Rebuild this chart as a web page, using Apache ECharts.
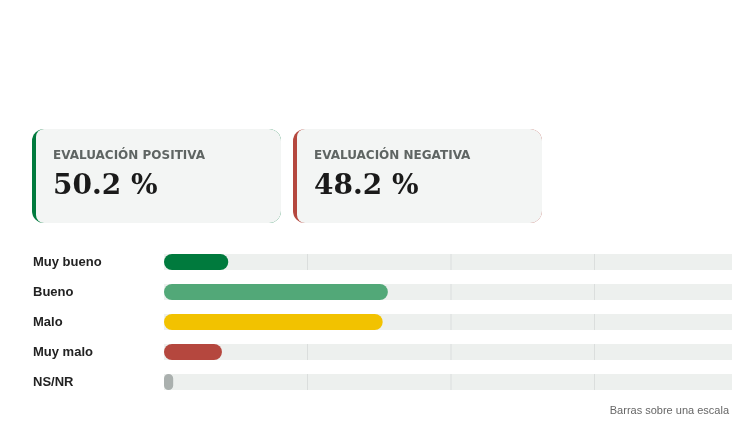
<!DOCTYPE html>
<html>
<head>
<meta charset="utf-8">
<script src="https://cdn.jsdelivr.net/npm/echarts@6/dist/echarts.min.js"></script>
<style>
  html, body { margin: 0; padding: 0; background: #fff; }
  #chart { width: 732px; height: 441px; }
</style>
</head>
<body>
<div id="chart"></div>
<script>
// datos
var categorias = ['Muy bueno', 'Bueno', 'Malo', 'Muy malo', 'NS/NR'];
var valores = [11.2, 39.0, 38.1, 10.1, 1.6];
var colores = ['#007a3d', '#52a878', '#f2c200', '#b5473e', '#aab0ae'];
var escalaMax = 100;
var lineasGuia = [25, 50, 75];
var tarjetas = [
    { titulo: 'EVALUACIÓN POSITIVA', valor: '50.2 %', color: '#007a3d' },
    { titulo: 'EVALUACIÓN NEGATIVA', valor: '48.2 %', color: '#b5473e' }
];
var nota = 'Barras sobre una escala';

var myChart = echarts.init(document.getElementById('chart'));

// tarjetas de arriba
var graficos = [];
tarjetas.forEach(function (t, i) {
    var x = 32 + i * 261;
    graficos.push({
        type: 'rect', left: x, top: 129,
        shape: { width: 249, height: 94, r: 12 },
        style: { fill: t.color }
    });
    graficos.push({
        type: 'rect', left: x + 4, top: 129,
        shape: { width: 245, height: 94, r: [8, 12, 12, 8] },
        style: { fill: '#f3f5f4' }
    });
    graficos.push({
        type: 'text', left: x + 21, top: 150,
        style: {
            text: t.titulo, fill: '#5f6563',
            font: 'bold 12px "DejaVu Sans"'
        }
    });
    graficos.push({
        type: 'text', left: x + 21, top: 173,
        style: {
            text: t.valor, fill: '#1a1a1a',
            font: 'bold 28px "DejaVu Serif"'
        }
    });
});
graficos.push({
    type: 'text', right: 3, top: 405,
    style: { text: nota, fill: '#666', font: '11px "Liberation Sans"' }
});

// marcas de escala dentro de cada pista
var guias = [];
categorias.forEach(function (c) {
    lineasGuia.forEach(function (v) {
        guias.push([v, c]);
    });
});

option = {
    backgroundColor: '#fff',
    animation: false,
    graphic: graficos,
    grid: { left: 164, width: 574, top: 247, height: 150, outerBoundsMode: 'none' },
    xAxis: {
        type: 'value', min: 0, max: escalaMax,
        show: false
    },
    yAxis: {
        type: 'category',
        data: categorias,
        inverse: true,
        axisLine: { show: false },
        axisTick: { show: false },
        axisLabel: {
            align: 'left', margin: 131,
            color: '#222', fontWeight: 'bold', fontSize: 13,
            fontFamily: 'Liberation Sans'
        }
    },
    series: [{
            name: 'pista',
            type: 'bar',
            data: categorias.map(function () { return escalaMax; }),
            barWidth: 16,
            barGap: '-100%',
            itemStyle: { color: '#edf0ee' },
            silent: true,
            z: 1
        },
        {
            name: 'guias',
            type: 'scatter',
            data: guias,
            symbol: 'rect',
            symbolSize: [1, 16],
            itemStyle: { color: '#d6dad8' },
            silent: true,
            z: 2
        },
        {
            name: 'valor',
            type: 'bar',
            data: valores.map(function (v, i) {
                return { value: v, itemStyle: { color: colores[i] } };
            }),
            barWidth: 16,
            itemStyle: { borderRadius: 8 },
            z: 3
        }
    ]
};
myChart.setOption(option);
</script>
</body>
</html>
